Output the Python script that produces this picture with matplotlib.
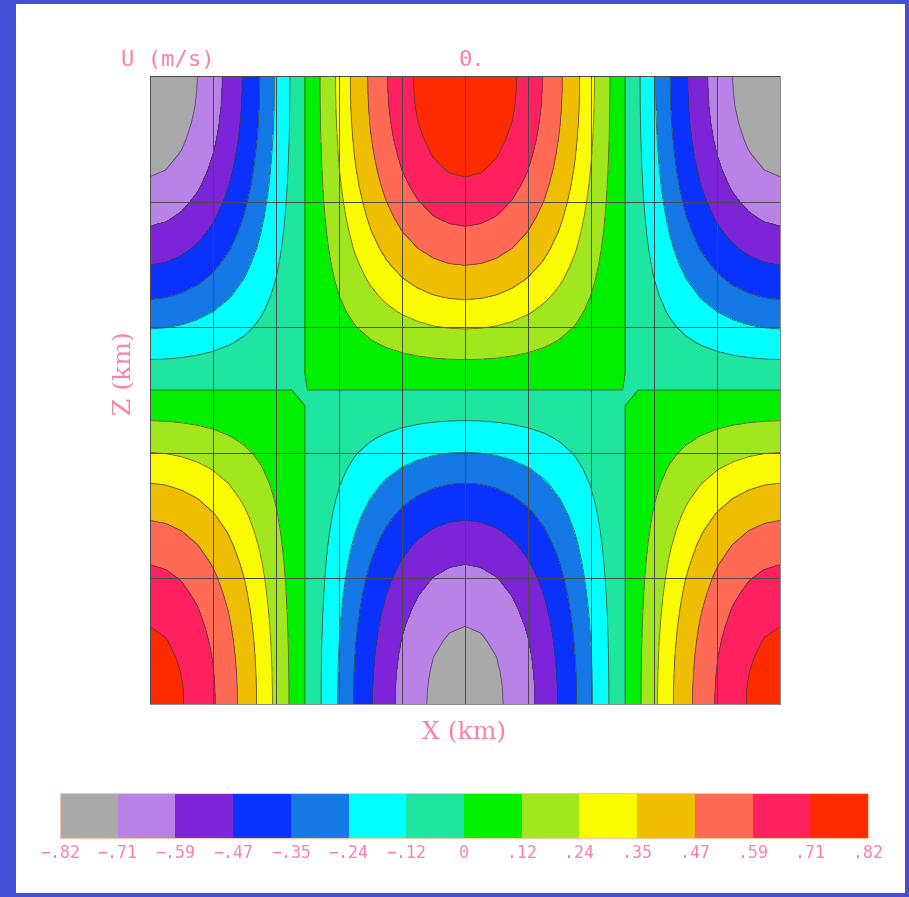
import numpy as np
import matplotlib
matplotlib.use("Agg")
import matplotlib.pyplot as plt
from matplotlib.patches import Rectangle

# ---- data -------------------------------------------------------------
# horizontal structure of U along the domain (41 points, normalised)
x_shape = [-0.999, -0.980, -0.937, -0.872, -0.786, -0.681, -0.560, -0.426,
           -0.281, -0.130, 0.025, 0.178, 0.327, 0.470, 0.600, 0.716,
           0.815, 0.894, 0.953, 0.988, 1.000, 0.988, 0.953, 0.894,
           0.815, 0.716, 0.600, 0.470, 0.327, 0.178, 0.025, -0.130,
           -0.281, -0.426, -0.560, -0.681, -0.786, -0.872, -0.937, -0.980,
           -0.999]
# U (m/s) along the central column, bottom to top (41 points)
u_column = [-0.765, -0.763, -0.756, -0.745, -0.729, -0.709, -0.684, -0.655,
            -0.623, -0.586, -0.546, -0.503, -0.456, -0.406, -0.354, -0.299,
            -0.242, -0.183, -0.123, -0.062, 0.000, 0.062, 0.124, 0.186,
            0.247, 0.306, 0.364, 0.420, 0.473, 0.524, 0.571, 0.615,
            0.655, 0.692, 0.724, 0.751, 0.774, 0.792, 0.805, 0.812,
            0.815]
levels = [-0.82, -0.71, -0.59, -0.47, -0.35, -0.24, -0.12, 0.0,
          0.12, 0.24, 0.35, 0.47, 0.59, 0.71, 0.82]
shade_colors = ["#a9a9a9", "#b882e6", "#7d24d8", "#0a32ff", "#1478e6",
                "#00ffff", "#1ee6a0", "#00f000", "#a2e61e", "#fafa00",
                "#f0be00", "#ff6a55", "#ff2060", "#ff2a00"]
title_left = "U (m/s)"
title_center = "0."
x_label = "X (km)"
z_label = "Z (km)"

# ---- field ------------------------------------------------------------
x = np.linspace(0.0, 1.0, len(x_shape))
z = np.linspace(0.0, 1.0, len(u_column))
U = np.outer(np.array(u_column), np.array(x_shape))

W, H = 909, 897
pink = "#ff7ea6"
fig = plt.figure(figsize=(W / 100, H / 100), dpi=100)
fig.patch.set_facecolor("#444fd6")
fig.patches.append(Rectangle((16 / W, 4 / H), (905 - 16) / W, (893 - 4) / H,
                             transform=fig.transFigure, facecolor="white",
                             edgecolor="none", zorder=-10))

def fx(px):
    return px / W

def fy(py):
    return 1 - py / H

ax = fig.add_axes([fx(150), fy(704), 630 / W, 628 / H])
cf = ax.contourf(x, z, U, levels=levels, colors=shade_colors)
ax.contour(x, z, U, levels=levels[1:-1], colors="#3a3a3a",
           linewidths=0.6, linestyles="solid", alpha=0.8)
ax.set_xlim(0, 1)
ax.set_ylim(0, 1)
ax.set_xticks(np.linspace(0, 1, 11))
ax.set_yticks(np.linspace(0, 1, 6))
ax.tick_params(length=0, labelbottom=False, labelleft=False)
ax.grid(True, color="#4a4a4a", linewidth=0.7)
ax.set_axisbelow(False)
for s in ax.spines.values():
    s.set_color("#8a8a8a")
    s.set_linewidth(0.7)

fig.text(fx(121), fy(60), title_left, color=pink, fontsize=16,
         family="DejaVu Sans Mono", ha="left", va="center")
fig.text(fx(472), fy(60), title_center, color=pink, fontsize=16,
         family="DejaVu Sans Mono", ha="center", va="center")
fig.text(fx(464), fy(733), x_label, color=pink, fontsize=18,
         family="DejaVu Serif", ha="center", va="center")
fig.text(fx(125), fy(373), z_label, color=pink, fontsize=18,
         family="DejaVu Serif", ha="center", va="center", rotation=90)

cax = fig.add_axes([fx(60), fy(838), 808 / W, 45 / H])
cb = fig.colorbar(cf, cax=cax, orientation="horizontal", ticks=levels)

def gr_fmt(v):
    if v == 0:
        return "0"
    s = f"{abs(v):.2f}".lstrip("0")
    return ("\u2212" if v < 0 else "") + s

cb.set_ticklabels([gr_fmt(v) for v in levels])
cb.ax.tick_params(length=0, labelsize=12, labelcolor=pink, pad=4)
for lab in cb.ax.get_xticklabels():
    lab.set_family("DejaVu Sans Mono")
cb.outline.set_edgecolor("#f5c8a0")
cb.outline.set_linewidth(0.8)

fig.savefig("out.png", dpi=100)
